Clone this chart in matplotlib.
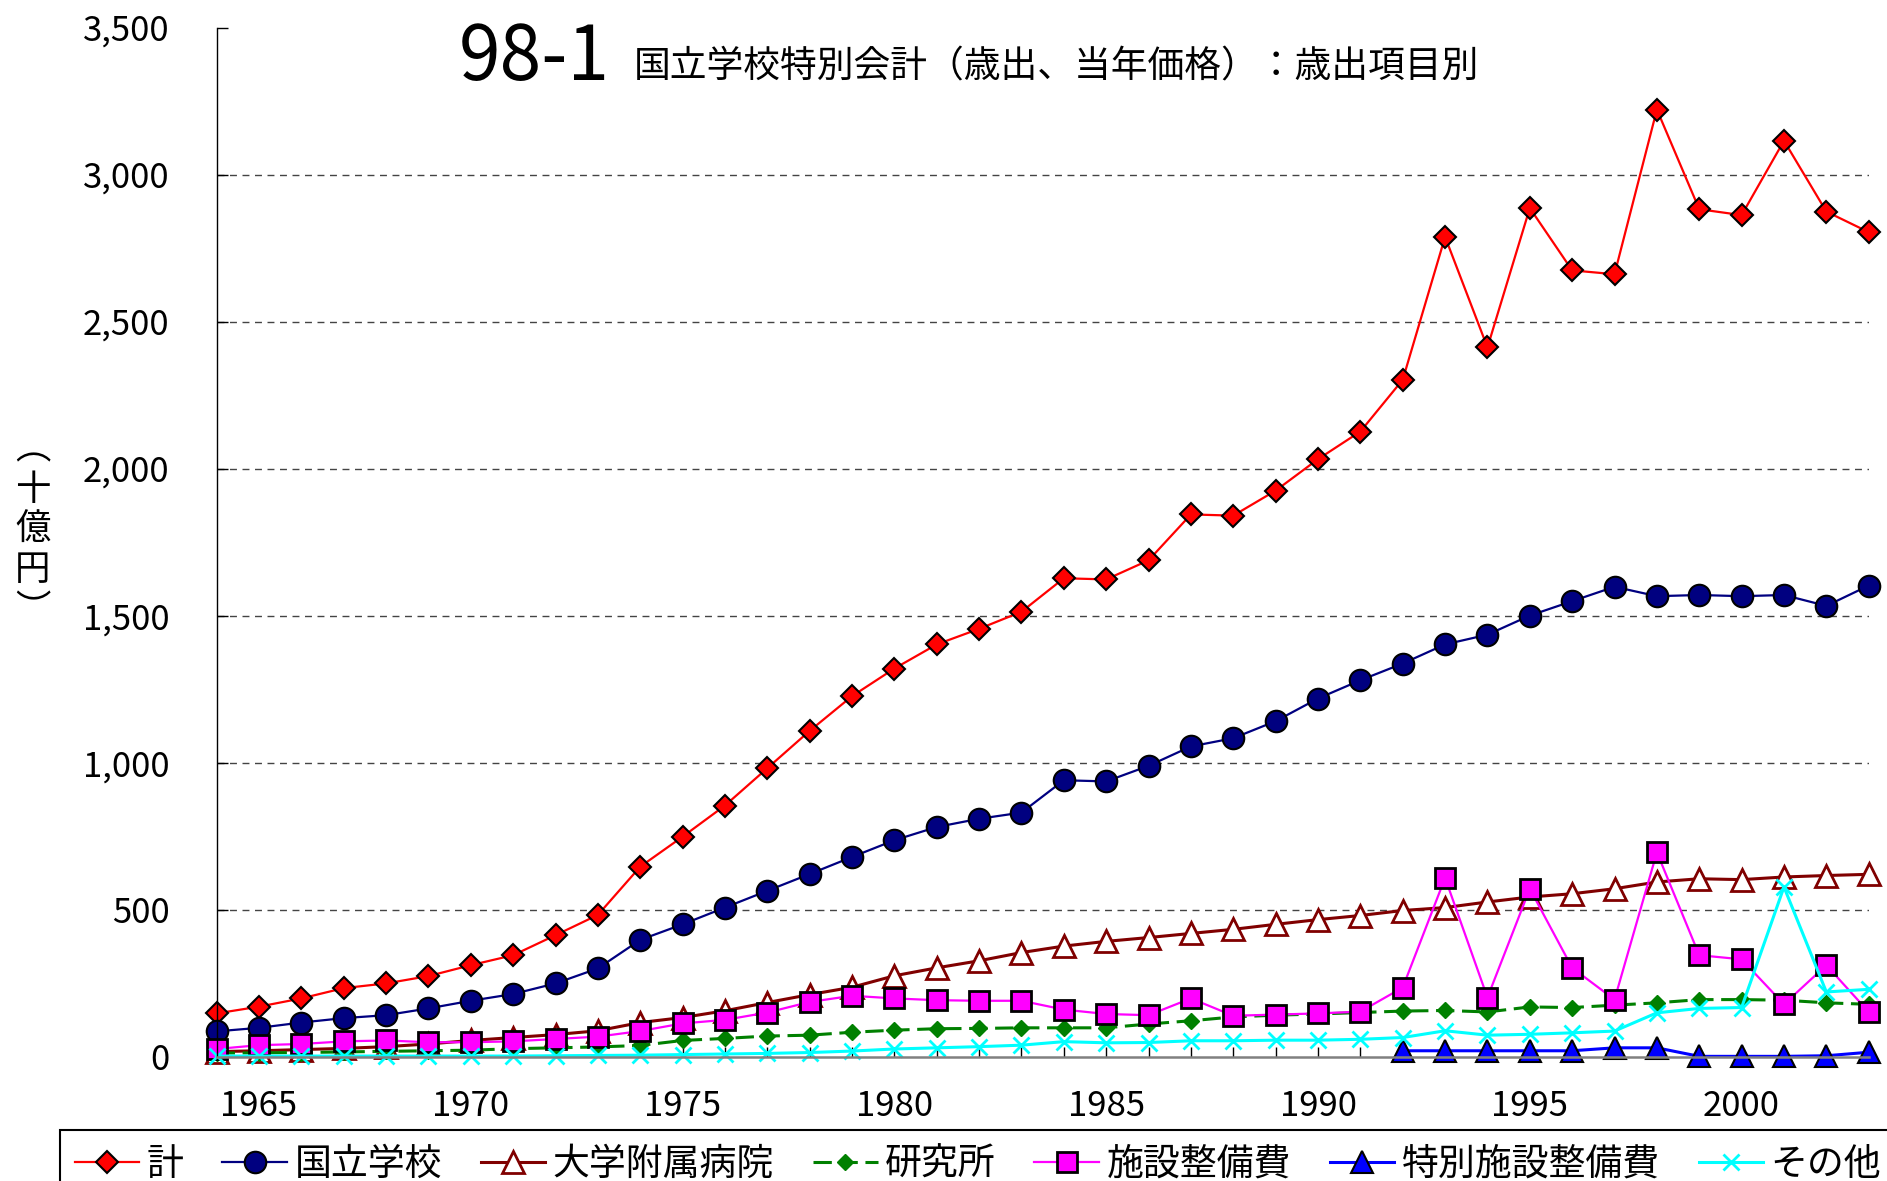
import matplotlib
matplotlib.use("Agg")
import matplotlib.pyplot as plt
from matplotlib.ticker import FuncFormatter

plt.rcParams['font.family'] = ['Noto Sans CJK JP', 'DejaVu Sans']

# 年度 1964-2003（十億円）
years = list(range(1964, 2004))

total = [147, 170, 198, 233, 249, 274, 311, 345, 413, 482,
         646, 748, 854, 981, 1108, 1226, 1320, 1402, 1455, 1513,
         1627, 1623, 1688, 1844, 1840, 1925, 2032, 2126, 2302, 2788,
         2412, 2886, 2674, 2661, 3221, 2882, 2862, 3115, 2874, 2804]

schools = [86, 98, 116, 131, 141, 164, 190, 213, 249, 300,
           397, 450, 507, 564, 621, 679, 736, 781, 809, 830,
           940, 936, 989, 1055, 1083, 1141, 1218, 1280, 1337, 1402,
           1435, 1500, 1549, 1598, 1566, 1570, 1566, 1570, 1533, 1602]

hospitals = [17, 20, 24, 28, 34, 43, 55, 65, 75, 88,
             116, 133, 156, 184, 211, 236, 275, 302, 326, 354,
             376, 392, 405, 419, 433, 450, 466, 480, 497, 507,
             526, 543, 554, 571, 594, 605, 602, 611, 616, 620]

institutes = [12, 13, 14, 16, 18, 20, 22, 27, 30, 33,
              38, 55, 62, 70, 73, 83, 90, 95, 96, 98,
              98, 98, 111, 122, 135, 141, 145, 150, 155, 157,
              152, 169, 167, 175, 183, 194, 194, 192, 183, 178]

facilities = [26, 39, 43, 52, 55, 49, 49, 52, 60, 68,
              87, 113, 125, 150, 186, 207, 198, 192, 190, 190,
              160, 145, 141, 198, 139, 143, 147, 153, 235, 608,
              201, 571, 302, 194, 695, 345, 331, 178, 311, 152]

special_years = list(range(1992, 2004))
special = [20, 20, 20, 20, 20, 30, 30, 1, 1, 1, 3, 15]

others = [2, 2, 2, 2, 2, 2, 2, 2, 3, 4,
          5, 7, 9, 11, 14, 19, 26, 30, 34, 39,
          51, 47, 48, 54, 54, 56, 56, 59, 65, 88,
          73, 76, 81, 87, 149, 164, 167, 577, 220, 229]

labels = ['計', '国立学校', '大学附属病院', '研究所', '施設整備費', '特別施設整備費', 'その他']

fig = plt.figure(figsize=(18.87, 11.81), dpi=100)
ax = fig.add_axes([0.1148, 0.1053, 0.8755, 0.8714])

for v in range(500, 3001, 500):
    ax.axhline(v, color='#444444', lw=1.0, ls=(0, (5, 4)), zorder=0.5)

common = dict(clip_on=False)
ax.plot(years, total, color='#FF0000', lw=1.6, marker='D', ms=11.5,
        mfc='#FF0000', mec='black', mew=1.5, label=labels[0], **common)
ax.plot(years, schools, color='#000080', lw=1.6, marker='o', ms=15.5,
        mfc='#000080', mec='black', mew=1.5, label=labels[1], **common)
ax.plot(years, hospitals, color='#800000', lw=2.2, marker='^', ms=15.5,
        mfc='white', mec='#800000', mew=2.0, label=labels[2], **common)
ax.plot(years, institutes, color='#008000', lw=2.2, ls=(0, (6, 2.5)), marker='D', ms=8,
        mfc='#008000', mec='#008000', mew=1.0, label=labels[3], **common)
ax.plot(years, facilities, color='#FF00FF', lw=1.6, marker='s', ms=14.5,
        mfc='#FF00FF', mec='black', mew=2.0, label=labels[4], **common)
ax.plot(special_years, special, color='#0000FF', lw=2.2, marker='^', ms=15.5,
        mfc='#0000FF', mec='black', mew=1.5, label=labels[5], **common)
ax.plot(years, others, color='#00FFFF', lw=2.2, marker='x', ms=11.5,
        mec='#00FFFF', mew=2.0, label=labels[6], **common)

ax.set_xlim(1964, 2003)
ax.set_ylim(0, 3500)

ax.spines['top'].set_visible(False)
ax.spines['right'].set_visible(False)
ax.spines['left'].set_color('black')
ax.spines['left'].set_linewidth(1.0)
ax.spines['bottom'].set_color('#808080')
ax.spines['bottom'].set_linewidth(1.8)

ax.set_xticks(years)
ax.set_xticklabels([str(y) if y % 5 == 0 else '' for y in years])
ax.set_yticks(range(0, 3501, 500))
ax.yaxis.set_major_formatter(FuncFormatter(lambda v, p: f'{int(v):,}'))
ax.tick_params(axis='x', direction='in', length=7, width=1.0, color='black',
               labelsize=25, pad=23)
ax.tick_params(axis='y', direction='in', length=8, width=1.0, color='black',
               labelsize=25, pad=34)

fig.text(459 / 1887, 1 - 80 / 1181, '98-1', fontsize=54, ha='left', va='baseline')
fig.text(634 / 1887, 1 - 77 / 1181, '国立学校特別会計（歳出、当年価格）：歳出項目別',
         fontsize=26.5, ha='left', va='baseline')

fig.text(33 / 1887, 1 - 530 / 1181, '︵\n十\n億\n円\n︶', fontsize=25.5,
         ha='center', va='center', linespacing=1.15)

handles, lbls = ax.get_legend_handles_labels()
leg = fig.legend(handles, lbls, loc='upper left',
                 bbox_to_anchor=(60 / 1887, 1 - 1130 / 1181),
                 ncol=7, fontsize=26.6, frameon=True, fancybox=False,
                 edgecolor='black', framealpha=1, handlelength=1.75,
                 handletextpad=0.2, columnspacing=1.05, borderpad=0.4,
                 borderaxespad=0)
leg.get_frame().set_linewidth(1.5)

fig.savefig('out.png', dpi=100)
